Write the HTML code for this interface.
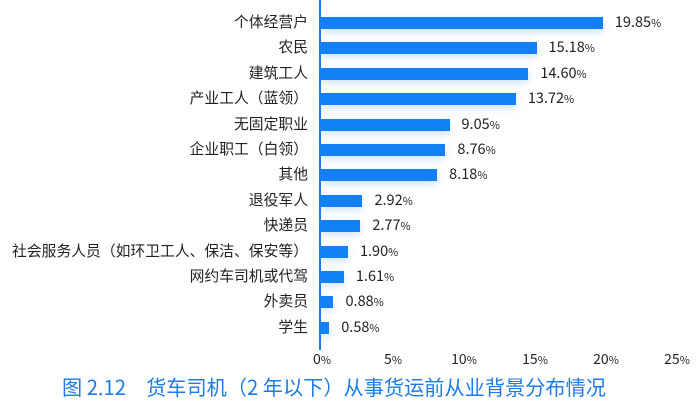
<!DOCTYPE html><html><head><meta charset="utf-8"><style>
body{margin:0;width:700px;height:408px;background:#fff;overflow:hidden;font-family:"Noto Sans CJK SC","Liberation Sans",sans-serif;position:relative}
.l{position:absolute;right:392px;font-size:14.8px;color:#222;line-height:16px;white-space:nowrap}
.b{position:absolute;left:321px;height:12px;background:#1380f5;box-shadow:0 3px 8px rgba(60,140,230,0.25)}
.v{position:absolute;font-size:14.5px;color:#222;line-height:16px}
.v small,.t small{font-size:11px}
.t{position:absolute;top:349px;font-size:14px;color:#222;transform:translateX(-50%)}
</style></head><body>
<div style="position:absolute;left:319px;top:0;width:2px;height:350px;background:#1380f5"></div>
<div id="c"></div>
<script>
var d=[["个体经营户",19.85],["农民",15.18],["建筑工人",14.60],["产业工人（蓝领）",13.72],["无固定职业",9.05],["企业职工（白领）",8.76],["其他",8.18],["退役军人",2.92],["快递员",2.77],["社会服务人员（如环卫工人、保洁、保安等）",1.90],["网约车司机或代驾",1.61],["外卖员",0.88],["学生",0.58]];
var h="";d.forEach(function(r,i){var y=23+i*25.4;var w=r[1]*14.2;
h+='<div class="l" style="top:'+(y-9)+'px">'+r[0]+'</div><div class="b" style="top:'+(y-6)+'px;width:'+w+'px"></div><div class="v" style="top:'+(y-9)+'px;left:'+(321+w+12)+'px">'+r[1].toFixed(2)+'<small>%</small></div>';});
[0,5,10,15,20,25].forEach(function(t,i){h+='<div class="t" style="left:'+(322+t*14.2)+'px">'+t+'<small>%</small></div>';});
document.getElementById("c").innerHTML=h;
</script>
<div style="position:absolute;left:62px;top:372px;white-space:nowrap;font-size:20.2px;color:#1e7be8">图 2.12　货车司机（2 年以下）从事货运前从业背景分布情况</div>
</body></html>
